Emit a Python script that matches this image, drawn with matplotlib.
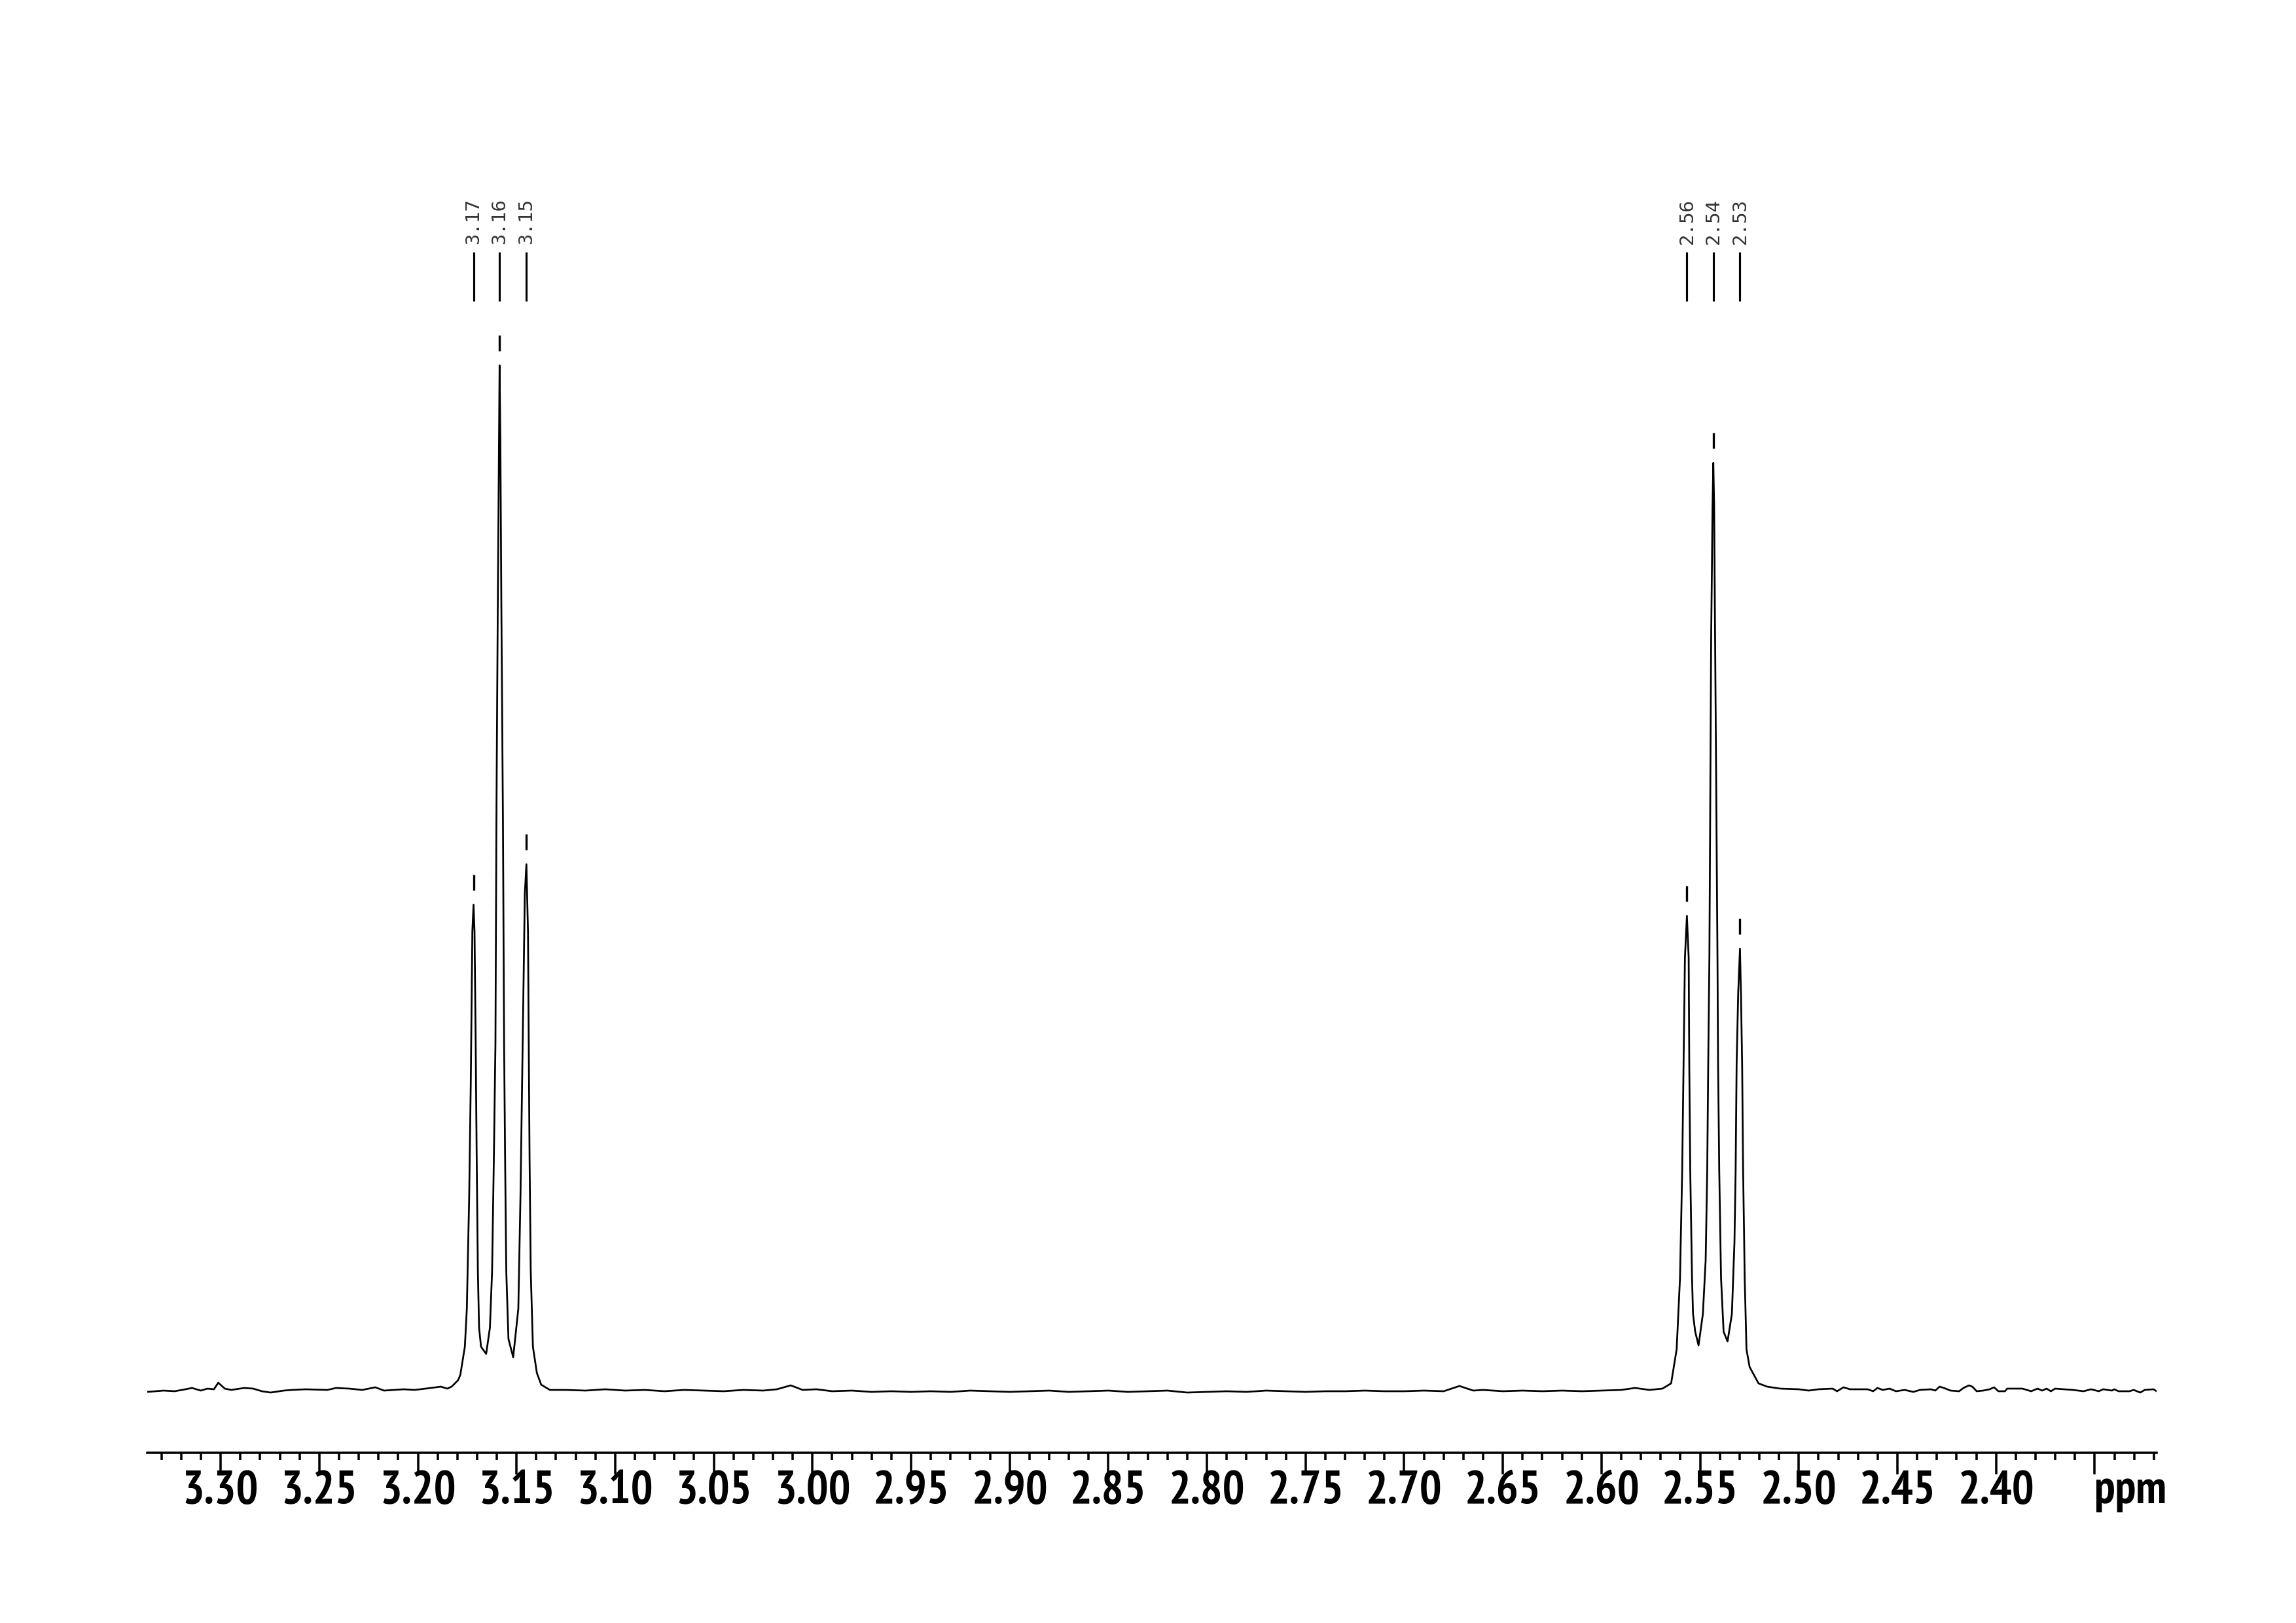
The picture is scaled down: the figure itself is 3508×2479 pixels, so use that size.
import matplotlib
matplotlib.use("Agg")
import matplotlib.pyplot as plt
from matplotlib import font_manager as fm
from matplotlib.ticker import MultipleLocator, FixedLocator, FixedFormatter

# ---------------- data (ppm, intensity in a.u.) ----------------
baseline_left_ppm = [3.3372, 3.3289, 3.3233, 3.3178, 3.3145, 3.3101, 3.3067, 3.3034, 3.3012,
                     3.2979, 3.2946, 3.2880, 3.2835, 3.2791, 3.2747, 3.2680, 3.2636, 3.2570,
                     3.2459, 3.2415, 3.2349, 3.2282, 3.2216, 3.2172, 3.2072, 3.2017, 3.1961,
                     3.1884, 3.1851, 3.1829, 3.1796]
baseline_left_int = [-3, -1, -2, 1, 3, -1, 2, 1, 11, 2, 0, 3, 2, -2, -4, -1, 0, 1, 0, 3, 2, 0,
                     4, -1, 1, 0, 2, 5, 2, 5, 15]

cluster1_ppm = [3.1785, 3.1762, 3.1752, 3.1740, 3.1732, 3.1724, 3.1718, 3.1713, 3.1707, 3.1702,
                3.1696, 3.1690, 3.1680, 3.1654, 3.1635, 3.1624, 3.1615, 3.1607, 3.1602, 3.1595,
                3.1589, 3.1586, 3.1582, 3.1577, 3.1569, 3.1563, 3.1558, 3.1552, 3.1541, 3.1517,
                3.1491, 3.1480, 3.1469, 3.1458, 3.1450, 3.1442, 3.1438, 3.1434, 3.1428, 3.1417,
                3.1397, 3.1375, 3.1331]
cluster1_int = [23, 66, 124, 297, 470, 700, 741, 700, 527, 354,
                181, 95, 66, 55, 95, 181, 354, 527, 873, 1200,
                1450, 1565, 1450, 1200, 873, 527, 354, 181, 78, 50,
                124, 297, 527, 758, 803, 700, 527, 354, 181, 66,
                26, 8, 0]

middle_ppm = [3.125, 3.115, 3.105, 3.095, 3.085, 3.075, 3.065, 3.055, 3.045, 3.035, 3.025, 3.018,
              3.011, 3.005, 2.998, 2.990, 2.980, 2.970, 2.960, 2.950, 2.940, 2.930, 2.920, 2.910,
              2.900, 2.890, 2.880, 2.870, 2.860, 2.850, 2.840, 2.830, 2.820, 2.810, 2.800, 2.790,
              2.780, 2.770, 2.760, 2.750, 2.740, 2.730, 2.720, 2.710, 2.700, 2.690, 2.680, 2.672,
              2.665, 2.660, 2.650, 2.640, 2.630, 2.620, 2.610, 2.600, 2.590, 2.583]
middle_int = [0, -1, 1, -1, 0, -2, 0, -1, -2, 0, -1, 1,
              7, 0, 1, -2, -1, -3, -2, -3, -2, -3, -1, -2,
              -3, -2, -1, -3, -2, -1, -3, -2, -1, -4, -3, -2,
              -3, -1, -2, -3, -2, -2, -1, -2, -2, -1, -2, 6,
              -1, 0, -2, -1, -2, -1, -2, -1, 0, 3]

cluster2_ppm = [2.5757, 2.5691, 2.5647, 2.5619, 2.5602, 2.5591, 2.5584, 2.5577, 2.5567, 2.5558,
                2.5555, 2.5550, 2.5541, 2.5536, 2.5525, 2.5508, 2.5486, 2.5472, 2.5464, 2.5459,
                2.5453, 2.5450, 2.5444, 2.5437, 2.5433, 2.5429, 2.5424, 2.5416, 2.5412, 2.5409,
                2.5403, 2.5394, 2.5381, 2.5361, 2.5339, 2.5326, 2.5320, 2.5315, 2.5307, 2.5298,
                2.5293, 2.5287, 2.5282, 2.5274, 2.5265, 2.5249, 2.5204, 2.5160, 2.5094]
cluster2_int = [0, 2, 10, 62, 171, 334, 497, 660, 724, 660,
                497, 334, 171, 116, 89, 68, 116, 198, 334, 497,
                660, 823, 1150, 1350, 1416, 1350, 1150, 823, 660, 497,
                334, 171, 89, 74, 116, 225, 334, 497, 606, 674,
                606, 497, 334, 171, 62, 35, 10, 5, 2]

baseline_right_ppm = [2.500, 2.495, 2.490, 2.4828, 2.4806, 2.4773, 2.4740, 2.4695, 2.4651, 2.4623,
                      2.4601, 2.4574, 2.4540, 2.4507, 2.4463, 2.4419, 2.4386, 2.4330, 2.4308,
                      2.4286, 2.4264, 2.4231, 2.4187, 2.4165, 2.4137, 2.4120, 2.4098, 2.4065,
                      2.4032, 2.4010, 2.3988, 2.3955, 2.3943, 2.3910, 2.3866, 2.3822, 2.3789,
                      2.3766, 2.3744, 2.3722, 2.3700, 2.3656, 2.3611, 2.3556, 2.3518, 2.3479,
                      2.3457, 2.3412, 2.3401, 2.3379, 2.3324, 2.3302, 2.3269, 2.3246, 2.3202,
                      2.3186]
baseline_right_int = [1, -1, 1, 2, -2, 4, 1, 1, 1, -2,
                      3, 0, 2, -2, 0, -3, 0, 1, -1,
                      5, 3, -1, -2, 3, 7, 5, -2, -1,
                      1, 4, -2, -2, 2, 2, 2, -2, 2,
                      -1, 2, -2, 2, 1, 0, -2, 1, -2,
                      1, -1, 1, -2, -2, 0, -4, 0, 1,
                      -2]

peak_ppm = [3.1718, 3.1586, 3.1450, 2.5567, 2.5433, 2.5298]
peak_int = [741, 1565, 803, 724, 1416, 674]
peak_labels = ["3.17", "3.16", "3.15", "2.56", "2.54", "2.53"]

major_ticks = [3.30, 3.25, 3.20, 3.15, 3.10, 3.05, 3.00, 2.95, 2.90, 2.85, 2.80, 2.75,
               2.70, 2.65, 2.60, 2.55, 2.50, 2.45, 2.40, 2.35]
major_labels = ["3.30", "3.25", "3.20", "3.15", "3.10", "3.05", "3.00", "2.95", "2.90", "2.85",
                "2.80", "2.75", "2.70", "2.65", "2.60", "2.55", "2.50", "2.45", "2.40", ""]
unit_label = "ppm"
unit_pos = 2.35

x_left, x_right = 3.3372, 2.3186


# ---------------- fonts: look for a bold condensed/narrow face ----------------
def find_condensed_bold():
    prio = {"extra-condensed": 0, "condensed": 1, "semi-condensed": 2, "ultra-condensed": 3}
    best = None
    for f in fm.fontManager.ttflist:
        name = f.name
        stretch = str(f.stretch)
        try:
            w = int(f.weight)
        except Exception:
            w = {"bold": 700, "heavy": 800, "black": 900, "semibold": 600,
                 "demibold": 600}.get(str(f.weight).lower(), 400)
        if w < 600 or "italic" in str(f.style).lower() or "oblique" in str(f.style).lower():
            continue
        score = None
        if "Narrow" in name:
            score = 0
        elif stretch in prio:
            score = 1 + prio[stretch]
        elif "Condensed" in name or "Condensed" in f.fname:
            score = 2
        if score is None:
            continue
        score = score * 10 + abs(w - 700) / 100.0
        if "Mono" in name or "Serif" in name:
            score += 50
        if best is None or score < best[0]:
            best = (score, f.fname)
    return best[1] if best else None


cond_path = find_condensed_bold()
if cond_path:
    tick_fp = fm.FontProperties(fname=cond_path, size=17)
    tick_pad = -1.5
else:
    tick_fp = fm.FontProperties(family="Liberation Sans", weight="bold", size=14.5)
    tick_pad = 3
major_len = 8.0

# ---------------- figure ----------------
W, H = 3508, 2479
DPI = 300
fig = plt.figure(figsize=(W / DPI, H / DPI), dpi=DPI, facecolor="white")
ax_left, ax_right = 225 / W, 3295 / W
ax_bottom, ax_top = (H - 2219) / H, (H - 300) / H
ax = fig.add_axes([ax_left, ax_bottom, ax_right - ax_left, ax_top - ax_bottom])
ax.set_facecolor("white")

ppm = baseline_left_ppm + cluster1_ppm + middle_ppm + cluster2_ppm + baseline_right_ppm
inten = baseline_left_int + cluster1_int + middle_int + cluster2_int + baseline_right_int
ax.plot(ppm, inten, color="black", lw=0.65, solid_joinstyle="round")

ax.set_xlim(x_left, x_right)
ax.set_ylim(-96, 1823)

# peak markers above each peak
for p, h in zip(peak_ppm, peak_int):
    ax.vlines(p, h + 22, h + 46.5, color="black", lw=0.8)

# peak label lines and rotated labels at top
for p, lab in zip(peak_ppm, peak_labels):
    ax.vlines(p, 1663, 1738, color="black", lw=0.75)
    ax.text(p, 1750, lab, rotation=90, ha="center", va="bottom", fontsize=7,
            family="DejaVu Sans Mono", color="#333333")

# axes styling
for s in ["top", "left", "right"]:
    ax.spines[s].set_visible(False)
ax.spines["bottom"].set_linewidth(0.85)
ax.yaxis.set_visible(False)
ax.xaxis.set_major_locator(FixedLocator(major_ticks))
ax.xaxis.set_major_formatter(FixedFormatter(major_labels))
ax.xaxis.set_minor_locator(MultipleLocator(0.01))
ax.tick_params(axis="x", which="major", direction="out", length=major_len, width=0.85,
               pad=tick_pad)
ax.tick_params(axis="x", which="minor", direction="out", length=2.6, width=0.85)
for t in ax.get_xticklabels():
    t.set_fontproperties(tick_fp)
    if not cond_path:
        t.set_fontweight("bold")

# unit label, left edge at the 2.35 tick
unit = ax.annotate(unit_label, xy=(unit_pos, 0), xycoords=("data", "axes fraction"),
                   xytext=(0, -(major_len + tick_pad)), textcoords="offset points",
                   ha="left", va="top", fontproperties=tick_fp)
if not cond_path:
    unit.set_fontweight("bold")

fig.savefig("out.png", dpi=DPI, facecolor="white")
